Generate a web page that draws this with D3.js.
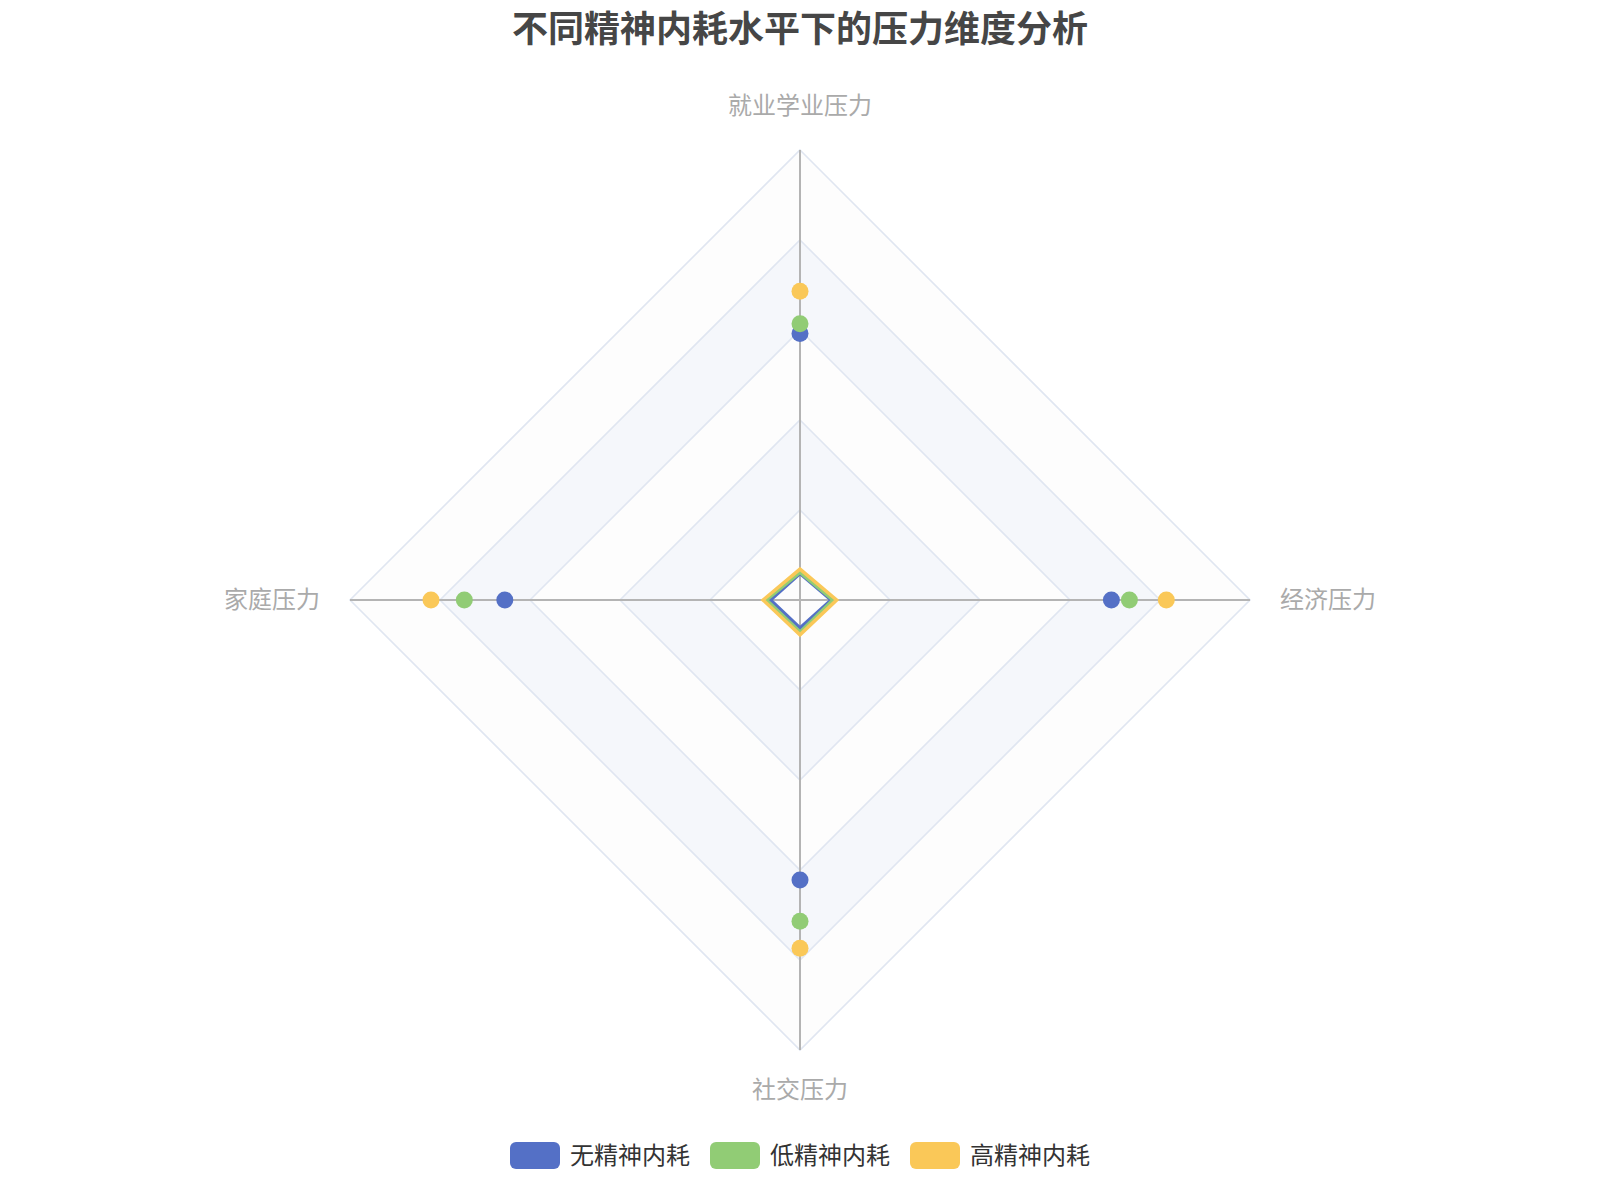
<!DOCTYPE html>
<html>
<head>
<meta charset="utf-8">
<script src="https://cdn.jsdelivr.net/npm/d3@7"></script>
<style>
  body { margin: 0; background: #fff; }
  text { font-family: "Noto Sans CJK SC", "Noto Sans", sans-serif; }
</style>
</head>
<body>
<div id="chart"></div>
<script>
// Chart data
const indicators = ["就业学业压力", "经济压力", "社交压力", "家庭压力"];
const seriesNames = ["无精神内耗", "低精神内耗", "高精神内耗"];
const noDrain = [2.96, 3.46, 3.11, 3.28];
const lowDrain = [3.07, 3.66, 3.57, 3.73];
const highDrain = [3.43, 4.07, 3.87, 4.1];
const colors = ["#5470c6", "#91cc75", "#fac858"];
const maxValue = 5;
const splitLevels = [1, 2, 3, 4, 5];
// the lines were caught early in their grow-in animation
const lineProgress = 0.1;

const width = 1600;
const height = 1200;
const cx = width / 2;
const cy = height / 2;
const radius = 450;

const svg = d3
  .select("#chart")
  .append("svg")
  .attr("width", width)
  .attr("height", height);

// Title
svg
  .append("text")
  .attr("x", cx)
  .attr("y", 42)
  .attr("text-anchor", "middle")
  .attr("font-size", 36)
  .attr("font-weight", "bold")
  .attr("fill", "#464646")
  .text("不同精神内耗水平下的压力维度分析");

const rScale = d3.scaleLinear().domain([0, maxValue]).range([0, radius]);
const angle = d3
  .scaleBand()
  .domain(indicators)
  .range([0, 2 * Math.PI])
  .align(0)
  .paddingInner(0)
  .paddingOuter(0);

const point = (name, v) => {
  const a = angle(name);
  return [cx + rScale(v) * Math.sin(a), cy - rScale(v) * Math.cos(a)];
};

const ringPath = (v) =>
  d3.line().curve(d3.curveLinearClosed)(indicators.map((n) => point(n, v)));

const chartGroup = svg.append("g");

// Split areas, outermost first
const areaColors = ["rgba(250,250,250,0.3)", "rgba(210,219,238,0.22)"];
splitLevels
  .slice()
  .reverse()
  .forEach((lvl) => {
    chartGroup
      .append("path")
      .attr("d", ringPath(lvl))
      .attr("fill", "#fff");
    const inner = lvl - 1;
    const path = ringPath(lvl) + (inner > 0 ? ringPath(inner) : "");
    chartGroup
      .append("path")
      .attr("d", path)
      .attr("fill-rule", "evenodd")
      .attr("fill", areaColors[(lvl - 1) % 2]);
  });

// Split lines
splitLevels.forEach((lvl) => {
  chartGroup
    .append("path")
    .attr("d", ringPath(lvl))
    .attr("fill", "none")
    .attr("stroke", "#E0E6F1")
    .attr("stroke-width", 1.6);
});

// Axis lines
indicators.forEach((name) => {
  const [x, y] = point(name, maxValue);
  chartGroup
    .append("line")
    .attr("x1", cx)
    .attr("y1", cy)
    .attr("x2", x)
    .attr("y2", y)
    .attr("stroke", "#b4b4b4")
    .attr("stroke-width", 2);
});

// Axis names
indicators.forEach((name) => {
  const a = angle(name);
  const sx = Math.sin(a);
  const sy = -Math.cos(a);
  const gap = Math.abs(sx) > 0.5 ? 30 : sy > 0 ? 40 : 44;
  const [x, y] = point(name, maxValue);
  chartGroup
    .append("text")
    .attr("x", x + sx * gap)
    .attr("y", y + sy * gap)
    .attr("dy", "0.35em")
    .attr("text-anchor", sx > 0.5 ? "start" : sx < -0.5 ? "end" : "middle")
    .attr("font-size", 24)
    .attr("fill", "#aaaaaa")
    .text(name);
});

const allSeries = [noDrain, lowDrain, highDrain];

// Series lines (scaled toward center)
allSeries.forEach((values, i) => {
  chartGroup
    .append("path")
    .attr(
      "d",
      d3.line().curve(d3.curveLinearClosed)(
        indicators.map((n, j) => point(n, values[j] * lineProgress))
      )
    )
    .attr("fill", "none")
    .attr("stroke", colors[i])
    .attr("stroke-width", 3.5)
    .attr("stroke-linejoin", "miter");
});

// Series symbols
allSeries.forEach((values, i) => {
  chartGroup
    .selectAll(`.dot-${i}`)
    .data(values)
    .enter()
    .append("circle")
    .attr("class", `dot-${i}`)
    .attr("cx", (d, j) => point(indicators[j], d)[0])
    .attr("cy", (d, j) => point(indicators[j], d)[1])
    .attr("r", 8.5)
    .attr("fill", colors[i]);
});

// Legend
const boxW = 50;
const boxH = 27;
const textW = 120;
const itemW = boxW + 10 + textW;
const itemGap = 20;
const legendW = seriesNames.length * itemW + (seriesNames.length - 1) * itemGap;
const legend = svg
  .append("g")
  .attr("transform", `translate(${(width - legendW) / 2}, 1142)`);

seriesNames.forEach((name, i) => {
  const g = legend
    .append("g")
    .attr("transform", `translate(${i * (itemW + itemGap)}, 0)`);
  g.append("rect")
    .attr("width", boxW)
    .attr("height", boxH)
    .attr("rx", 6)
    .attr("fill", colors[i]);
  g.append("text")
    .attr("x", boxW + 10)
    .attr("y", boxH / 2)
    .attr("dy", "0.35em")
    .attr("font-size", 24)
    .attr("fill", "#333")
    .text(name);
});
</script>
</body>
</html>
